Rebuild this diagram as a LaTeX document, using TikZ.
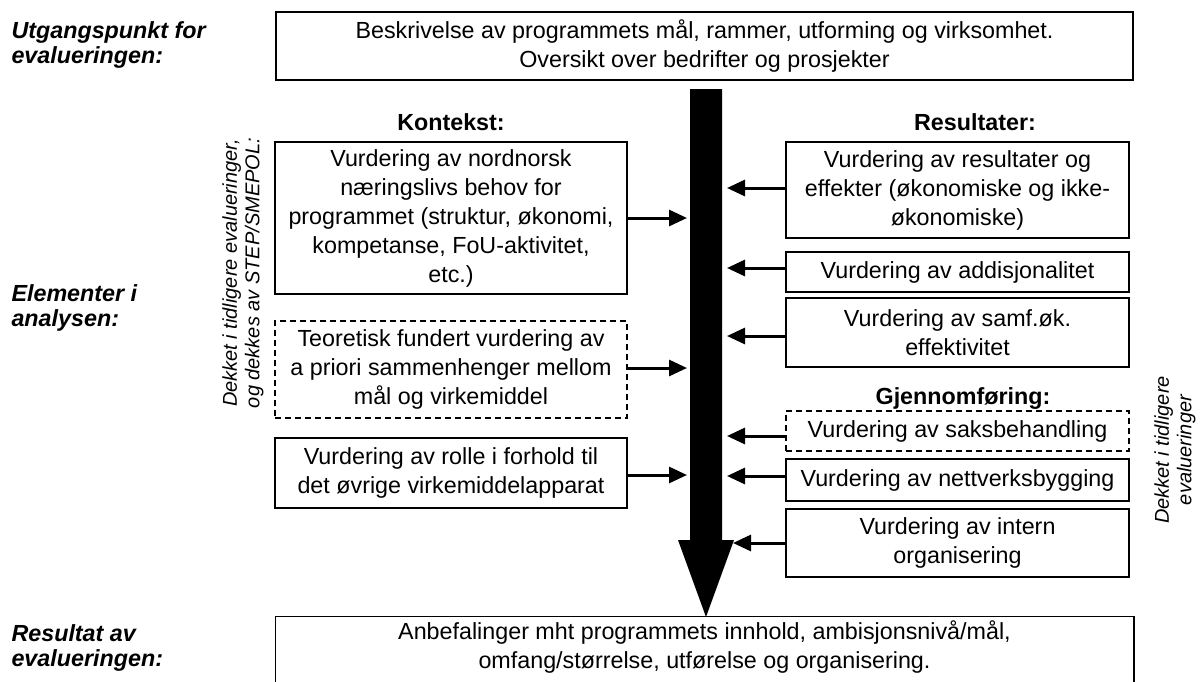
\documentclass[tikz,border=0pt]{standalone}
\usepackage{fontspec}
\setmainfont{Liberation Sans}
\usetikzlibrary{arrows.meta}
\begin{document}
\begin{tikzpicture}[x=1pt,y=-1pt,
 box/.style={draw,line width=1.5pt,align=center,inner sep=0pt,font=\fontsize{23.3}{29}\selectfont},
 dbox/.style={box,dash pattern=on 6pt off 4pt},
 lbox/.style={minimum width=352pt},
 rbox/.style={minimum width=343pt},
 arr/.style={line width=3pt,-{Triangle[length=18pt,width=16pt]}},
 hd/.style={font=\fontsize{23.3}{29}\selectfont\bfseries},
 side/.style={font=\fontsize{23.3}{25.5}\selectfont\bfseries\itshape,align=left,anchor=west},
 rot/.style={font=\fontsize{20}{22.5}\selectfont\itshape,align=center,rotate=90}
]
\useasboundingbox (0,0) rectangle (1200,681);

% side labels
\node[side] (s1) at (8,45) {Utgangspunkt for\\evalueringen:};
\node[side] (s2) at (8,308) {Elementer i\\analysen:};
\node[side] (s3) at (8,648) {Resultat av\\evalueringen:};

% top and bottom boxes
\node[box,minimum width=857pt,minimum height=68pt] (top) at (704.5,46)
 {Beskrivelse av programmets mål, rammer, utforming og virksomhet.\\Oversikt over bedrifter og prosjekter};
\node[box,draw=none,minimum width=857pt,minimum height=60pt] (bot) at (704.5,647)
 {Anbefalinger mht programmets innhold, ambisjonsnivå/mål,\\omfang/størrelse, utførelse og organisering.};
\draw[line width=1.5pt] (bot.south west) ++(0,30) |- (bot.north east) -- ++(0,90);

% big arrow
\fill (690,89) -- (722,89) -- (722,540) -- (734,540) -- (706,617) -- (678,540) -- (690,540) -- cycle;

% headings
\node[hd] (hk) at (451,122) {Kontekst:};
\node[hd] (hr) at (975,122) {Resultater:};
\node[hd] (hg) at (963,399) {Gjennomføring:};

% left boxes
\node[box,lbox,minimum height=152pt] (L1) at (451,218)
 {Vurdering av nordnorsk\\næringslivs behov for\\programmet (struktur, økonomi,\\kompetanse, FoU-aktivitet,\\etc.)};
\node[dbox,lbox,minimum height=97pt] (L2) at (451,369.5)
 {Teoretisk fundert vurdering av\\a priori sammenhenger mellom\\mål og virkemiddel};
\node[box,lbox,minimum height=70pt] (L3) at (451,473)
 {Vurdering av rolle i forhold til\\det øvrige virkemiddelapparat};

% right boxes
\node[box,rbox,minimum height=96pt] (R1) at (957.5,190)
 {Vurdering av resultater og\\effekter (økonomiske og ikke-\\økonomiske)};
\node[box,rbox,minimum height=40pt] (R2) at (957.5,272) {Vurdering av addisjonalitet};
\node[box,rbox,minimum height=69pt] (R3) at (957.5,332.5) {Vurdering av samf.øk.\\effektivitet};
\node[dbox,rbox,minimum height=40pt] (R4) at (957.5,431) {Vurdering av saksbehandling};
\node[box,rbox,minimum height=42pt] (R5) at (957.5,480) {Vurdering av nettverksbygging};
\node[box,rbox,minimum height=68pt] (R6) at (957.5,543) {Vurdering av intern\\organisering};

% rotated notes
\node[rot] (dl) at (243,273) {Dekket i tidligere evalueringer,\\og dekkes av STEP/SMEPOL:};
\node[rot] (dr) at (1175,450) {Dekket i tidligere\\evalueringer};

% arrow tips
\coordinate (a1) at (687,218);
\coordinate (a2) at (687,368);
\coordinate (a3) at (687,475);
\coordinate (b1) at (727,188);
\coordinate (b2) at (727,268);
\coordinate (b3) at (727,336);
\coordinate (b4) at (727,436);
\coordinate (b5) at (727,476);
\coordinate (b6) at (733,543);

\draw[arr] (L1.east |- a1) -- (a1);
\draw[arr] (L2.east |- a2) -- (a2);
\draw[arr] (L3.east |- a3) -- (a3);
\draw[arr] (R1.west |- b1) -- (b1);
\draw[arr] (R2.west |- b2) -- (b2);
\draw[arr] (R3.west |- b3) -- (b3);
\draw[arr] (R4.west |- b4) -- (b4);
\draw[arr] (R5.west |- b5) -- (b5);
\draw[arr] (R6.west |- b6) -- (b6);
\end{tikzpicture}
\end{document}
